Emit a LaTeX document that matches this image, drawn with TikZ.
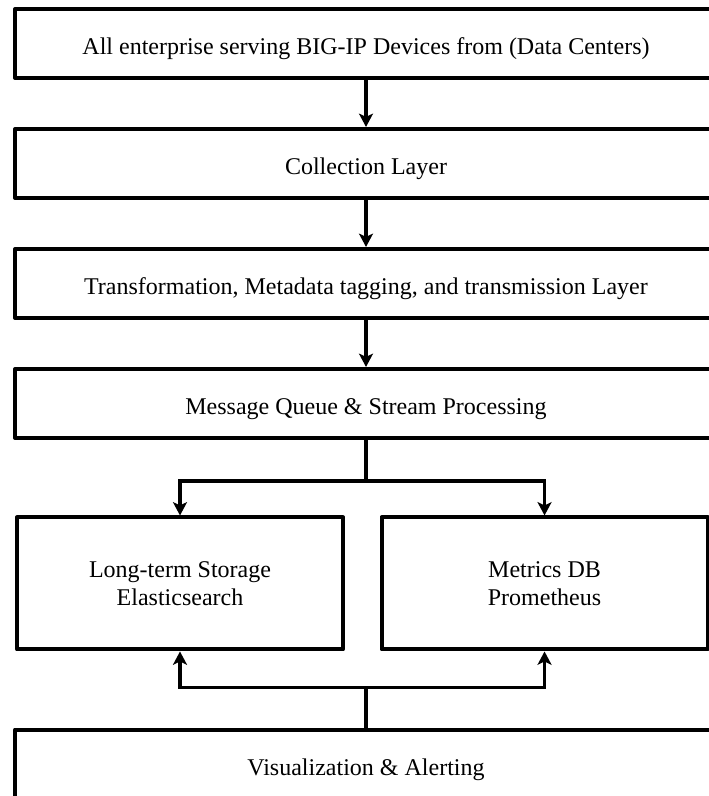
\documentclass[tikz,border=0pt]{standalone}
\usepackage{fontspec}
\setmainfont{Liberation Serif}
\usepackage{tikz}
\usetikzlibrary{arrows.meta}
\usetikzlibrary{positioning}
\tikzstyle{layer} = [rectangle, draw, line width=3pt, line join=round, minimum width=526.5pt, minimum height=51.75pt, inner sep=0pt, text height=17pt, text depth=0pt, font=\fontsize{18}{21}\selectfont]
\tikzstyle{store} = [rectangle, draw, line width=3pt, line join=round, minimum width=244.5pt, minimum height=99pt, align=center, font=\fontsize{18}{21}\selectfont]
\tikzstyle{line} = [draw, line width=2.4pt, -{Stealth[length=10pt, width=10.5pt, inset=2.5pt]}]
\tikzstyle{wire} = [draw, line width=2.4pt]

\begin{document}
\begin{tikzpicture}[node distance = 90pt]
            \useasboundingbox (0,0) rectangle (531.75pt,-597pt);
            % Place nodes
            \node [layer] (devices) at (274.5pt,-32.6pt) {All enterprise serving BIG-IP Devices from (Data Centers)};
            \node [layer, below of=devices] (collect) {Collection Layer};
            \node [layer, below of=collect] (transform) {Transformation, Metadata tagging, and transmission Layer};
            \node [layer, below of=transform] (queue) {Message Queue \& Stream Processing};
            \node [store, below of=queue, node distance=135pt, xshift=-139.5pt] (storage) {Long-term Storage\\Elasticsearch};
            \node [store, right of=storage, node distance=273.4pt] (metrics) {Metrics DB\\Prometheus};
            \node [layer, below of=queue, node distance=270.5pt] (visual) {Visualization \& Alerting};
            \coordinate (split) at ([yshift=-30.75pt]queue.south);
            \coordinate (join) at ([yshift=30pt]visual.north);
            % Draw edges
            \path [line] (devices) -- (collect);
            \path [line] (collect) -- (transform);
            \path [line] (transform) -- (queue);
            \path [wire] (queue) -- (split);
            \path [line] (split) -| (storage);
            \path [line] (split) -| (metrics);
            \path [wire] (visual) -- (join);
            \path [line] (join) -| (storage);
            \path [line] (join) -| (metrics);
          \end{tikzpicture}
\end{document}
